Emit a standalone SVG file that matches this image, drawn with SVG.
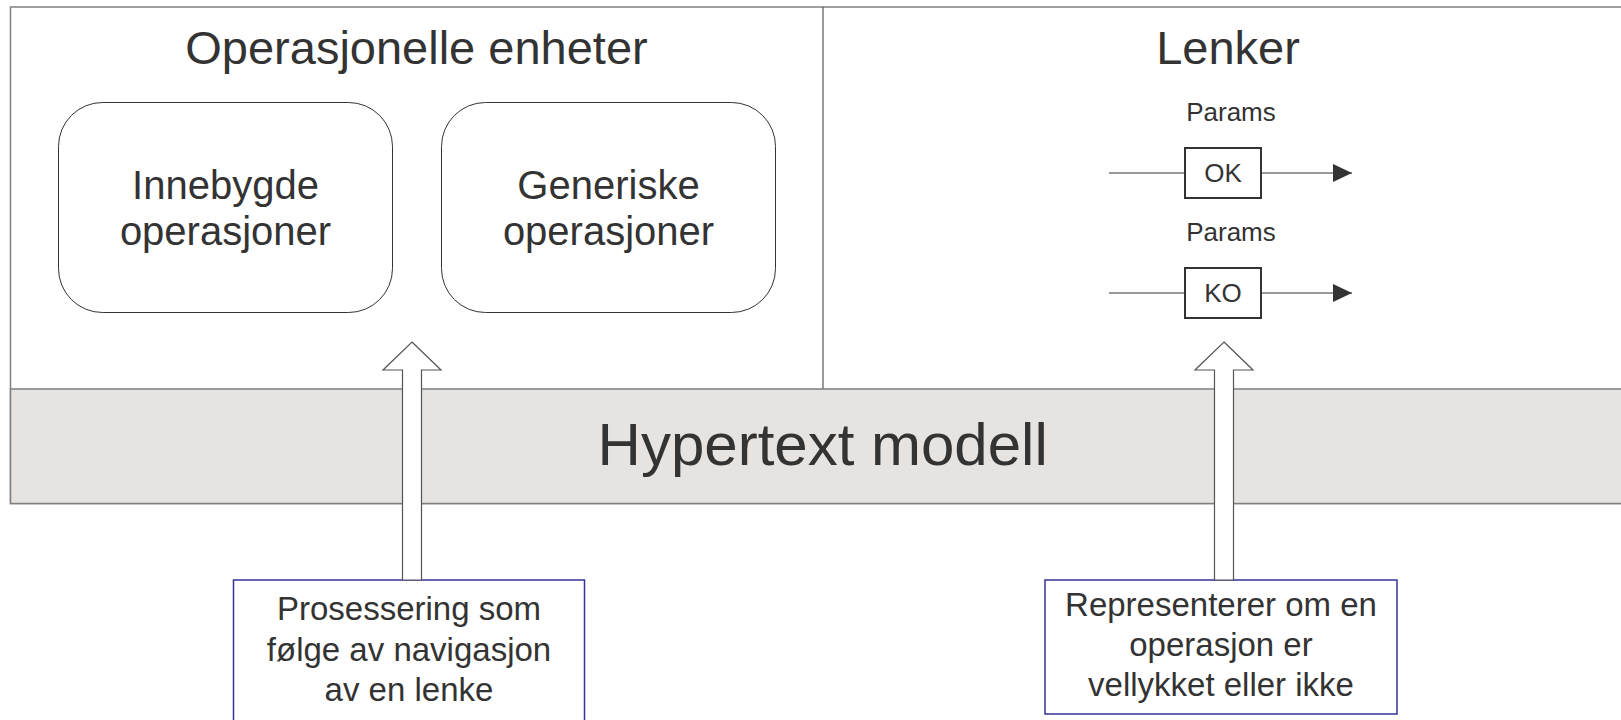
<svg xmlns="http://www.w3.org/2000/svg" width="1621" height="720" viewBox="0 0 1621 720">
  <style>
    text { font-family: "Liberation Sans", Arial, sans-serif; fill: #333333; text-anchor: middle; }
    .frame { fill: #ffffff; stroke: #808080; stroke-width: 1.5; }
    .band { fill: #e6e3e0; stroke: #808080; stroke-width: 1.5; }
    .unit { fill: #ffffff; stroke: #333333; stroke-width: 1; }
    .link { fill: #ffffff; stroke: #333333; stroke-width: 2; }
    .wire { stroke: #333333; stroke-width: 1; fill: none; }
    .hollow { fill: #ffffff; stroke: #555555; stroke-width: 1.2; stroke-linejoin: miter; }
    .note { fill: #ffffff; stroke: #333399; stroke-width: 1.5; }
    .t-big { font-size: 47px; }
    .t-unit { font-size: 40px; }
    .t-small { font-size: 26px; }
    .t-note { font-size: 33px; }
  </style>
  <defs>
    <marker id="tri" viewBox="0 0 19 18" refX="19" refY="9" markerWidth="19" markerHeight="18" markerUnits="userSpaceOnUse" orient="auto">
      <path d="M0,0 L19,9 L0,18 z" fill="#333333"/>
    </marker>
  </defs>

  <g id="frame">
    <rect class="frame" x="10.5" y="7" width="1625" height="496.5"/>
    <line x1="823" y1="7" x2="823" y2="389" stroke="#555555" stroke-width="1.2"/>
    <text class="t-big" x="416.5" y="64">Operasjonelle enheter</text>
    <text class="t-big" x="1228" y="64">Lenker</text>
  </g>

  <g id="hypertext-modell">
    <rect class="band" x="10.5" y="389" width="1625" height="114.5"/>
    <text x="822.7" y="465" font-size="60">Hypertext modell</text>
  </g>

  <g id="innebygde">
    <rect class="unit" x="58.5" y="102.5" width="334" height="210" rx="44" ry="44"/>
    <text class="t-unit" x="225.5" y="199">Innebygde</text>
    <text class="t-unit" x="225.5" y="245">operasjoner</text>
  </g>

  <g id="generiske">
    <rect class="unit" x="441.5" y="102.5" width="334" height="210" rx="44" ry="44"/>
    <text class="t-unit" x="608.5" y="199">Generiske</text>
    <text class="t-unit" x="608.5" y="245">operasjoner</text>
  </g>

  <g id="ok-link">
    <text class="t-small" x="1231" y="121">Params</text>
    <rect class="link" x="1185" y="148" width="76" height="50"/>
    <text class="t-small" x="1223" y="182">OK</text>
  </g>

  <g id="ko-link">
    <text class="t-small" x="1231" y="241">Params</text>
    <rect class="link" x="1185" y="268" width="76" height="50"/>
    <text class="t-small" x="1223" y="302">KO</text>
  </g>

  <g id="note-prosessering">
    <rect class="note" x="233.5" y="580" width="351" height="160"/>
    <text class="t-note" x="409" y="620">Prosessering som</text>
    <text class="t-note" x="409" y="661">følge av navigasjon</text>
    <text class="t-note" x="409" y="701">av en lenke</text>
  </g>

  <g id="note-representerer">
    <rect class="note" x="1045" y="580" width="352" height="134"/>
    <text class="t-note" x="1221" y="616">Representerer om en</text>
    <text class="t-note" x="1221" y="656">operasjon er</text>
    <text class="t-note" x="1221" y="696">vellykket eller ikke</text>
  </g>

  <g id="connectors">
    <line class="wire" x1="1109" y1="173" x2="1185" y2="173"/>
    <line class="wire" x1="1261" y1="173" x2="1352" y2="173" marker-end="url(#tri)"/>
    <line class="wire" x1="1109" y1="293" x2="1185" y2="293"/>
    <line class="wire" x1="1261" y1="293" x2="1352" y2="293" marker-end="url(#tri)"/>
    <polygon class="hollow" points="412,342 441,370 421.5,370 421.5,580 402.5,580 402.5,370 383,370"/>
    <polygon class="hollow" points="1224,342 1253,370 1233.5,370 1233.5,580 1214.5,580 1214.5,370 1195,370"/>
  </g>
</svg>
